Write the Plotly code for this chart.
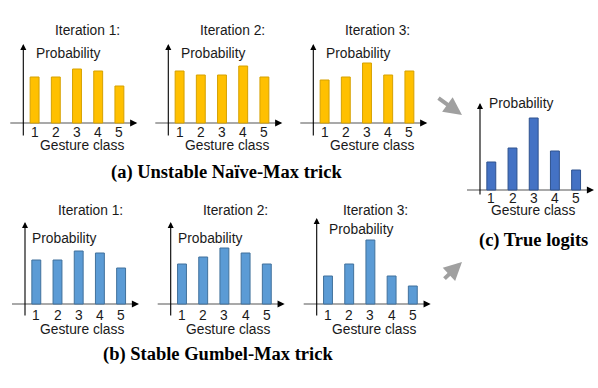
import plotly.graph_objects as go

W, H = 598, 388

# ---------------- data ----------------
classes = [1, 2, 3, 4, 5]
tick_labels = ["1", "2", "3", "4", "5"]
naive_iter1 = [0.46, 0.46, 0.54, 0.52, 0.37]
naive_iter2 = [0.52, 0.48, 0.48, 0.57, 0.46]
naive_iter3 = [0.43, 0.46, 0.60, 0.48, 0.52]
gumbel_iter1 = [0.44, 0.44, 0.53, 0.51, 0.36]
gumbel_iter2 = [0.40, 0.47, 0.56, 0.51, 0.40]
gumbel_iter3 = [0.28, 0.40, 0.64, 0.28, 0.18]
true_logits = [0.28, 0.42, 0.72, 0.39, 0.20]
iter_titles = ["Iteration 1:", "Iteration 2:", "Iteration 3:"]
y_label = "Probability"
x_label = "Gesture class"
caption_a = "(a) Unstable Naïve-Max trick"
caption_b = "(b) Stable Gumbel-Max trick"
caption_c = "(c) True logits"

# ---------------- styles / layout geometry (pixels) ----------------
SX = 21.2      # px per class
SY = 100.0     # px per probability unit
BAR_W = 0.42
YELLOW = dict(color="#FFC000", line=dict(color="#D6A100", width=1))
LBLUE = dict(color="#5B9BD5", line=dict(color="#41719C", width=1))
DBLUE = dict(color="#4472C4", line=dict(color="#2F528F", width=1))
SANS = "Liberation Sans, Arial, sans-serif"
SERIF = "Liberation Serif, Times New Roman, serif"
TXT = "#1a1a1a"
FS = 13.8

panels = [
    dict(vals=naive_iter1, title=iter_titles[0], A=23.3, base=123, top=44, bot=137,
         mk=YELLOW, ty=31, py=54, pdx=11, tky=132, gy=145, tdx=64, gdx=59),
    dict(vals=naive_iter2, title=iter_titles[1], A=168.3, base=123, top=44, bot=137,
         mk=YELLOW, ty=31, py=54, pdx=11, tky=132, gy=145, tdx=64, gdx=59),
    dict(vals=naive_iter3, title=iter_titles[2], A=313.3, base=123, top=44, bot=137,
         mk=YELLOW, ty=31, py=54, pdx=11, tky=132, gy=145, tdx=64, gdx=59),
    dict(vals=gumbel_iter1, title=iter_titles[0], A=25.0, base=304, top=222, bot=317,
         mk=LBLUE, ty=210, py=238, pdx=5, tky=315, gy=329, tdx=65, gdx=57),
    dict(vals=gumbel_iter2, title=iter_titles[1], A=170.7, base=304, top=222, bot=317,
         mk=LBLUE, ty=210, py=238, pdx=5, tky=315, gy=329, tdx=65, gdx=57),
    dict(vals=gumbel_iter3, title=iter_titles[2], A=316.7, base=304, top=218, bot=317,
         mk=LBLUE, ty=210, py=229, pdx=10, tky=315, gy=329, tdx=59, gdx=57),
    dict(vals=true_logits, title=None, A=480.0, base=190, top=103, bot=196,
         mk=DBLUE, ty=None, py=104, pdx=7, tky=199, gy=211, tdx=0, gdx=53),
]

fig = go.Figure()
shapes = []
annotations = []


def pxx(px):
    return px / W


def pxy(py):
    return 1 - py / H


for i, p in enumerate(panels, start=1):
    A, base = p["A"], p["base"]
    c1 = A + 11.3

    def dx(px, c1=c1):
        return 1 + (px - c1) / SX

    def dy(py, base=base):
        return (base - py) / SY

    L, R = max(0, A - 20), min(W, A + 124)
    T, B = max(0, p["top"] - 6), min(H, p["bot"] + 6)
    xn = "x" if i == 1 else f"x{i}"
    yn = "y" if i == 1 else f"y{i}"
    xk = "xaxis" if i == 1 else f"xaxis{i}"
    yk = "yaxis" if i == 1 else f"yaxis{i}"
    fig.add_trace(go.Bar(x=classes, y=p["vals"], width=BAR_W, marker=p["mk"],
                         xaxis=xn, yaxis=yn, showlegend=False, hoverinfo="skip"))
    fig.layout[xk] = dict(domain=[pxx(L), pxx(R)], range=[dx(L), dx(R)], visible=False,
                          anchor=yn, fixedrange=True)
    fig.layout[yk] = dict(domain=[pxy(B), pxy(T)], range=[dy(B), dy(T)], visible=False,
                          anchor=xn, fixedrange=True)

    # x axis line (gray) + black arrow tip
    xl, xr = A - 13, min(A + 114, W - 3)
    shapes.append(dict(type="line", xref=xn, yref=yn, x0=dx(xl), x1=dx(xr - 5), y0=0, y1=0,
                       line=dict(color="#8c8c8c", width=1.5), layer="below"))
    annotations.append(dict(xref=xn, yref=yn, axref=xn, ayref=yn, x=dx(xr), y=0,
                            ax=dx(xr - 7), ay=0, text="", showarrow=True, arrowhead=2,
                            arrowsize=1.1, arrowwidth=1.3, arrowcolor="#000"))
    # y axis with arrow
    annotations.append(dict(xref=xn, yref=yn, axref=xn, ayref=yn, x=dx(A), y=dy(p["top"]),
                            ax=dx(A), ay=dy(p["bot"]), text="", showarrow=True, arrowhead=2,
                            arrowsize=1.1, arrowwidth=1.1, arrowcolor="#000"))
    # texts
    if p["title"]:
        annotations.append(dict(xref="paper", yref="paper", x=pxx(A + p["tdx"]), y=pxy(p["ty"]),
                                text=p["title"], showarrow=False, xanchor="center", yanchor="middle",
                                font=dict(family=SANS, size=FS, color=TXT)))
    annotations.append(dict(xref="paper", yref="paper", x=pxx(A + p["pdx"]), y=pxy(p["py"]),
                            text=y_label, showarrow=False, xanchor="left", yanchor="middle",
                            font=dict(family=SANS, size=FS, color=TXT)))
    for cval, lab in zip(classes, tick_labels):
        annotations.append(dict(xref=xn, yref="paper", x=cval, y=pxy(p["tky"]), text=lab,
                                showarrow=False, xanchor="center", yanchor="middle",
                                font=dict(family=SANS, size=FS, color=TXT)))
    annotations.append(dict(xref="paper", yref="paper", x=pxx(A + p["gdx"]), y=pxy(p["gy"]),
                            text=x_label, showarrow=False, xanchor="center", yanchor="middle",
                            font=dict(family=SANS, size=FS, color=TXT)))

# captions
for txt, cx, cy in [(caption_a, 226, 172), (caption_b, 218, 354), (caption_c, 533, 240)]:
    annotations.append(dict(xref="paper", yref="paper", x=pxx(cx), y=pxy(cy), text=f"<b>{txt}</b>",
                            showarrow=False, xanchor="center", yanchor="middle",
                            font=dict(family=SERIF, size=18.5, color="#000")))

# connecting gray arrows
for (x0, y0, x1, y1) in [(437, 97, 462, 115), (443, 280, 462, 262)]:
    annotations.append(dict(xref="paper", yref="paper", axref="pixel", ayref="pixel",
                            x=pxx(x1), y=pxy(y1), ax=x0 - x1, ay=y0 - y1, text="",
                            showarrow=True, arrowhead=2, arrowsize=0.9, arrowwidth=4,
                            arrowcolor="#a0a0a0"))

fig.update_layout(width=W, height=H, autosize=False, margin=dict(l=0, r=0, t=0, b=0, pad=0),
                  paper_bgcolor="white", plot_bgcolor="rgba(0,0,0,0)", shapes=shapes,
                  annotations=annotations, bargap=0)

fig.write_html("out.html", config={"displayModeBar": False, "staticPlot": True},
               post_script="document.body.style.margin='0';")
